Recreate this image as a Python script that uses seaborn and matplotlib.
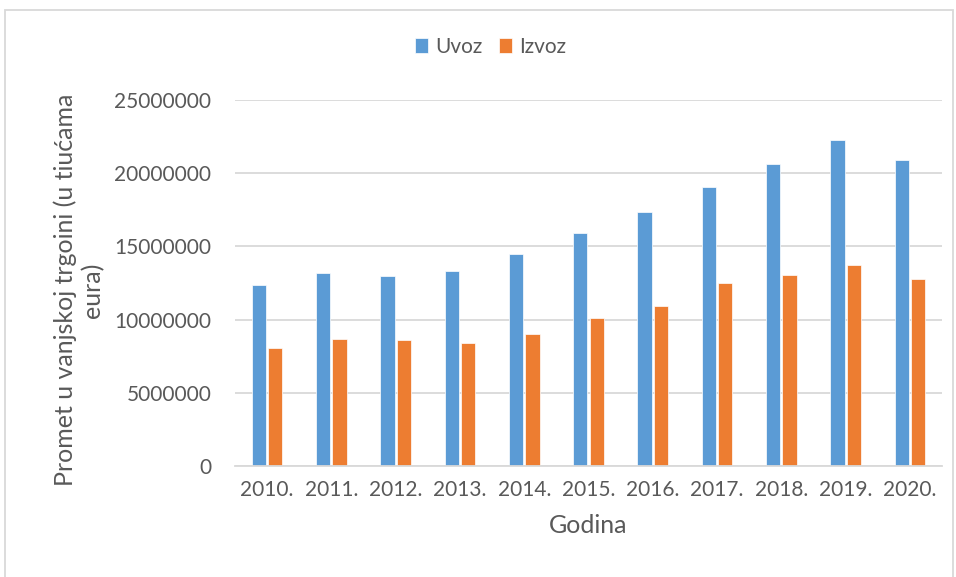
"""Uvoz i izvoz po godinama - grouped bar chart."""

import matplotlib
matplotlib.use("Agg")
import matplotlib.pyplot as plt
import pandas as pd
import seaborn as sns
from matplotlib.patches import Rectangle

years = ["2010.", "2011.", "2012.", "2013.", "2014.", "2015.",
         "2016.", "2017.", "2018.", "2019.", "2020."]
uvoz = [12390000, 13200000, 13000000, 13320000, 14500000, 15910000,
        17320000, 19090000, 20640000, 22300000, 20890000]
izvoz = [8090000, 8700000, 8640000, 8410000, 9050000, 10110000,
         10950000, 12500000, 13070000, 13730000, 12800000]
series = ["Uvoz", "Izvoz"]
colors = ["#5B9BD5", "#ED7D31"]
y_ticks = [0, 5000000, 10000000, 15000000, 20000000, 25000000]

df = pd.DataFrame({
    "Godina": years * 2,
    "Vrijednost": uvoz + izvoz,
    "Serija": [series[0]] * len(years) + [series[1]] * len(years),
})

sns.set_style("white")
plt.rcParams["font.family"] = ["Lato", "DejaVu Sans"]
text_color = "#595959"
grid_color = "#d9d9d9"

fig = plt.figure(figsize=(9.56, 5.77), dpi=100)
ax = fig.add_axes([235 / 956, 111 / 577, 707 / 956, 366 / 577])

sns.barplot(data=df, x="Godina", y="Vrijednost", hue="Serija",
            palette=colors, saturation=1, width=0.51, gap=0.13, ax=ax,
            edgecolor="white", linewidth=0.5)

ax.set_ylim(0, 25000000)
ax.set_xlim(-0.5, len(years) - 0.5)
ax.set_yticks(y_ticks)
ax.set_yticklabels([str(v) for v in y_ticks])
ax.yaxis.grid(True, color=grid_color, linewidth=1.3)
ax.set_axisbelow(True)
for side in ["left", "right", "top"]:
    ax.spines[side].set_visible(False)
ax.spines["bottom"].set_color(grid_color)
ax.spines["bottom"].set_linewidth(1.3)
ax.tick_params(axis="both", length=0, labelsize=15, labelcolor=text_color)
ax.tick_params(axis="y", pad=17)
ax.tick_params(axis="x", pad=10)

ax.set_xlabel("Godina", fontsize=18, color=text_color, labelpad=10)
ax.set_ylabel("")
fig.text(79 / 956, 1 - 290 / 577,
         "Promet u vanjskoj trgoini (u tiućama\neura)",
         rotation=90, ha="center", va="center", multialignment="center",
         fontsize=18, color=text_color, linespacing=1.2)

sns.move_legend(ax, "center", bbox_to_anchor=(0.513, 0.919),
                bbox_transform=fig.transFigure, ncol=2, frameon=False,
                title=None, fontsize=15, handlelength=0.63,
                handleheight=0.67, handletextpad=0.33, columnspacing=0.8)
for t in ax.get_legend().get_texts():
    t.set_color(text_color)

fig.patches.append(Rectangle((5 / 956, -0.01), 948 / 956, 1 - 10 / 577 + 0.01,
                             transform=fig.transFigure, fill=False,
                             edgecolor=grid_color, linewidth=1.3))

plt.savefig("out.png", dpi=100)
